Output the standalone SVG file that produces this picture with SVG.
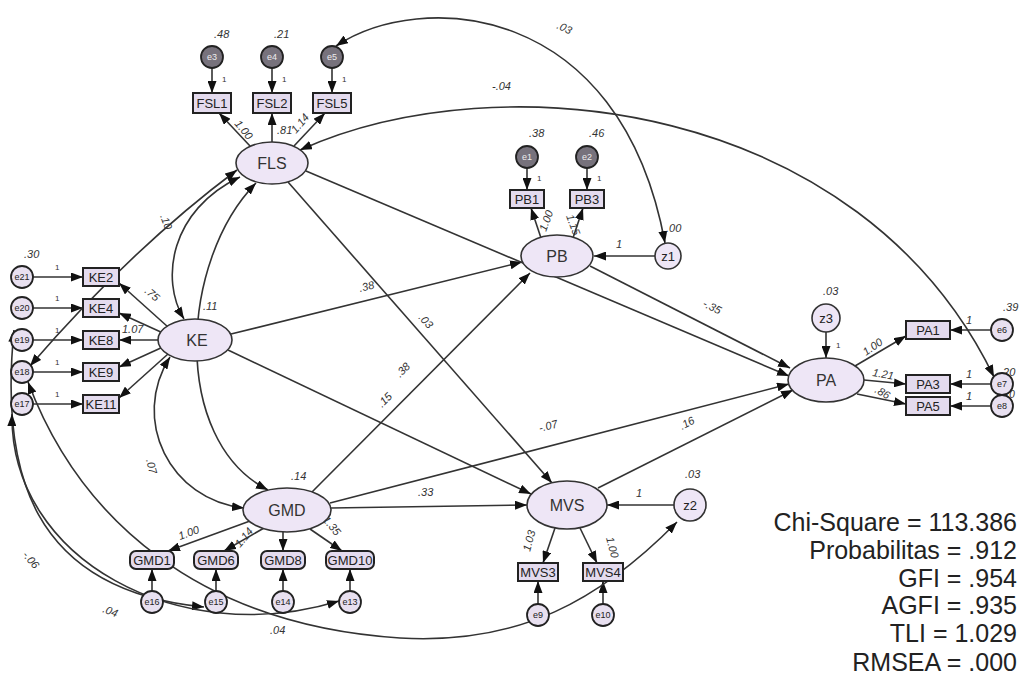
<svg xmlns="http://www.w3.org/2000/svg" width="1020" height="681" viewBox="0 0 1020 681">
<style>
.ln{fill:none;stroke:#333;stroke-width:1.6}
.a{marker-end:url(#ah)}
.d{marker-start:url(#ah);marker-end:url(#ah)}
.lat{fill:#eee6f6;stroke:#333;stroke-width:1.6}
.box{fill:#e4dbee;stroke:#222;stroke-width:2}
.err{fill:#e8e0f0;stroke:#222;stroke-width:1.8}
.errd{fill:#77727c;stroke:#222;stroke-width:1.8}
text{font-family:"Liberation Sans",Arial,sans-serif;fill:#333}
.nl{font-size:16px;text-anchor:middle}
.bl{font-size:13px;text-anchor:middle;fill:#222}
.el{font-size:9px;text-anchor:middle;fill:#222}
.eld{font-size:9px;text-anchor:middle;fill:#eee}
.n{font-size:11px;font-style:italic}
.s{font-size:8px}
.st{font-size:25px;text-anchor:end;fill:#222}
</style>
<defs>
<marker id="ah" viewBox="0 0 12 9" refX="12" refY="4.5" markerWidth="12" markerHeight="9" orient="auto-start-reverse" markerUnits="userSpaceOnUse"><path d="M0,0L12,4.5L0,9z" fill="#111"/></marker>
</defs>

<g id="connectors">
<path class="ln a" d="M212,68L212,93"/><path class="ln a" d="M272,68L272,93"/><path class="ln a" d="M332,68L332,93"/>
<path class="ln a" d="M250,146L219,113"/><path class="ln a" d="M272,142L272,113"/><path class="ln a" d="M294,146L325,113"/>
<path class="ln a" d="M527,168L527,190"/><path class="ln a" d="M587,168L587,190"/>
<path class="ln a" d="M541,238L531,208"/><path class="ln a" d="M573,238L583,208"/>
<path class="ln a" d="M655,256L594,256"/>
<path class="ln a" d="M826,332L826,358"/>
<path class="ln a" d="M855,366L906,336"/><path class="ln a" d="M864,380L906,384"/><path class="ln a" d="M857,394L906,404"/>
<path class="ln a" d="M991,330L950,330"/><path class="ln a" d="M991,384L950,384"/><path class="ln a" d="M991,406L950,406"/>
<path class="ln a" d="M33,277L83,277"/><path class="ln a" d="M33,308L83,308"/><path class="ln a" d="M33,340L83,340"/><path class="ln a" d="M33,372L83,372"/><path class="ln a" d="M33,404L83,404"/>
<path class="ln a" d="M168,327L119,283"/><path class="ln a" d="M163,333L119,313"/><path class="ln a" d="M158,340L119,340"/><path class="ln a" d="M163,347L119,367"/><path class="ln a" d="M168,354L119,398"/>
<path class="ln a" d="M152,591L152,569"/><path class="ln a" d="M216,591L216,569"/><path class="ln a" d="M283,591L283,569"/><path class="ln a" d="M350,591L350,569"/>
<path class="ln a" d="M250,521L168,551"/><path class="ln a" d="M264,528L224,551"/><path class="ln a" d="M283,532L283,551"/><path class="ln a" d="M310,529L342,551"/>
<path class="ln a" d="M538,604L538,581"/><path class="ln a" d="M603,604L603,581"/>
<path class="ln a" d="M555,528L543,563"/><path class="ln a" d="M580,528L597,563"/>
<path class="ln a" d="M674,505L607,505"/>
<path class="ln a" d="M231,334L522,262"/>
<path class="ln a" d="M288,182L552,483"/>
<path class="ln a" d="M312,492L530,273"/>
<path class="ln a" d="M228,350L531,494"/>
<path class="ln a" d="M306,171L789,376"/>
<path class="ln a" d="M590,266L790,368"/>
<path class="ln a" d="M330,503L789,384"/>
<path class="ln a" d="M331,508L527,505"/>
<path class="ln a" d="M598,488L793,390"/>
<path class="ln d" d="M336,46C420,-10 620,0 665,243"/>
<path class="ln d" d="M300,150C500,60 860,100 994,377"/>
<path class="ln d" d="M240,177C170,210 160,280 184,319"/>
<path class="ln d" d="M256,183C180,260 170,440 268,490"/>
<path class="ln d" d="M170,357C130,420 170,500 244,508"/>
<path class="ln d" d="M237,170Q130,250 30,366"/>
<path class="ln d" d="M28,382C80,520 200,625 400,638C520,645 600,600 677,522"/>
<path class="ln d" d="M14,330C0,470 30,590 204,607"/>
<path class="ln d" d="M12,414C10,560 180,650 339,601"/>

<text class="n" x="214" y="38">.48</text><text class="n" x="274" y="38">.21</text>
<text class="s" x="222" y="82">1</text><text class="s" x="282" y="82">1</text><text class="s" x="342" y="82">1</text>
<text class="n" transform="rotate(50 234 124)" x="234" y="124">1.00</text>
<text class="n" x="277" y="134">.81</text>
<text class="n" transform="rotate(-50 296 134)" x="296" y="134">1.14</text>
<text class="n" x="529" y="137">.38</text><text class="n" x="589" y="137">.46</text>
<text class="s" x="537" y="181">1</text><text class="s" x="597" y="181">1</text>
<text class="n" transform="rotate(-70 546 232)" x="546" y="232">1.00</text>
<text class="n" transform="rotate(70 566 216)" x="566" y="216">1.15</text>
<text class="n" x="666" y="232">.00</text>
<text class="n" x="616" y="248">1</text>
<text class="n" x="823" y="295">.03</text>
<text class="s" x="836" y="348">1</text>
<text class="n" transform="rotate(-35 866 356)" x="866" y="356">1.00</text>
<text class="n" transform="rotate(10 872 376)" x="872" y="376">1.21</text>
<text class="n" transform="rotate(30 874 392)" x="874" y="392">.86</text>
<text class="n" x="966" y="324">1</text><text class="n" x="966" y="378">1</text><text class="n" x="966" y="400">1</text>
<text class="n" x="1003" y="311">.39</text><text class="n" x="1000" y="376">.20</text><text class="n" style="font-size:10px" x="1001" y="398">.10</text>
<text class="n" x="24" y="258">.30</text>
<text class="s" x="55" y="270">1</text><text class="s" x="55" y="301">1</text><text class="s" x="55" y="333">1</text><text class="s" x="55" y="365">1</text><text class="s" x="55" y="397">1</text>
<text class="n" transform="rotate(40 144 292)" x="144" y="292">.75</text>
<text class="n" x="122" y="333">1.07</text>
<text class="n" x="203" y="310">.11</text>
<text class="n" transform="rotate(70 160 216)" x="160" y="216">.10</text>
<text class="n" transform="rotate(75 146 460)" x="146" y="460">.07</text>
<text class="n" x="291" y="480">.14</text>
<text class="n" transform="rotate(-20 180 540)" x="180" y="540">1.00</text>
<text class="n" transform="rotate(-50 240 548)" x="240" y="548">1.14</text>
<text class="n" transform="rotate(50 322 520)" x="322" y="520">1.35</text>
<text class="n" transform="rotate(-14 360 292)" x="360" y="292">.38</text>
<text class="n" transform="rotate(48 418 318)" x="418" y="318">.03</text>
<text class="n" transform="rotate(-45 400 378)" x="400" y="378">.38</text>
<text class="n" transform="rotate(-45 382 408)" x="382" y="408">.15</text>
<text class="n" transform="rotate(27 702 306)" x="702" y="306">-.35</text>
<text class="n" transform="rotate(-15 540 432)" x="540" y="432">-.07</text>
<text class="n" x="418" y="496">.33</text>
<text class="n" transform="rotate(-28 682 430)" x="682" y="430">.16</text>
<text class="n" x="685" y="478">.03</text>
<text class="n" x="636" y="497">1</text>
<text class="n" transform="rotate(-75 530 552)" x="530" y="552">1.03</text>
<text class="n" transform="rotate(75 606 538)" x="606" y="538">1.00</text>
<text class="n" transform="rotate(25 556 28)" x="556" y="28">.03</text>
<text class="n" x="492" y="90">-.04</text>
<text class="n" transform="rotate(50 22 555)" x="22" y="555">-.06</text>
<text class="n" transform="rotate(20 102 612)" x="102" y="612">.04</text>
<text class="n" x="270" y="634">.04</text>
</g>

<g id="FLS"><ellipse class="lat" cx="272" cy="163" rx="36" ry="21"/><text class="nl" x="272" y="169">FLS</text></g>
<g id="PB"><ellipse class="lat" cx="557" cy="256" rx="36" ry="21"/><text class="nl" x="557" y="262">PB</text></g>
<g id="KE"><ellipse class="lat" cx="195" cy="340" rx="37" ry="21"/><text class="nl" x="197" y="346">KE</text></g>
<g id="PA"><ellipse class="lat" cx="826" cy="380" rx="38" ry="22"/><text class="nl" x="826" y="386">PA</text></g>
<g id="GMD"><ellipse class="lat" cx="287" cy="510" rx="44" ry="22"/><text class="nl" x="287" y="516">GMD</text></g>
<g id="MVS"><ellipse class="lat" cx="567" cy="505" rx="40" ry="24"/><text class="nl" x="567" y="511">MVS</text></g>
<g id="z1"><circle class="lat" cx="668" cy="256" r="13"/><text class="bl" x="668" y="261">z1</text></g>
<g id="z2"><circle class="lat" cx="690" cy="505" r="16"/><text class="bl" x="690" y="510">z2</text></g>
<g id="z3"><circle class="lat" cx="826" cy="318" r="14"/><text class="bl" x="826" y="323">z3</text></g>

<g id="FSL1"><rect class="box" x="193" y="93" width="38" height="20"/><text class="bl" x="212" y="108">FSL1</text></g>
<g id="FSL2"><rect class="box" x="253" y="93" width="38" height="20"/><text class="bl" x="272" y="108">FSL2</text></g>
<g id="FSL5"><rect class="box" x="313" y="93" width="38" height="20"/><text class="bl" x="332" y="108">FSL5</text></g>
<g id="PB1"><rect class="box" x="510" y="190" width="34" height="18"/><text class="bl" x="527" y="204">PB1</text></g>
<g id="PB3"><rect class="box" x="570" y="190" width="34" height="18"/><text class="bl" x="587" y="204">PB3</text></g>
<g id="PA1"><rect class="box" x="906" y="321" width="44" height="18"/><text class="bl" x="928" y="335">PA1</text></g>
<g id="PA3"><rect class="box" x="906" y="375" width="44" height="18"/><text class="bl" x="928" y="389">PA3</text></g>
<g id="PA5"><rect class="box" x="906" y="397" width="44" height="18"/><text class="bl" x="928" y="411">PA5</text></g>
<g id="KE2"><rect class="box" x="83" y="268" width="36" height="18"/><text class="bl" x="101" y="282">KE2</text></g>
<g id="KE4"><rect class="box" x="83" y="299" width="36" height="18"/><text class="bl" x="101" y="313">KE4</text></g>
<g id="KE8"><rect class="box" x="83" y="331" width="36" height="18"/><text class="bl" x="101" y="345">KE8</text></g>
<g id="KE9"><rect class="box" x="83" y="363" width="36" height="18"/><text class="bl" x="101" y="377">KE9</text></g>
<g id="KE11"><rect class="box" x="83" y="395" width="36" height="18"/><text class="bl" x="101" y="409">KE11</text></g>
<g id="GMD1"><rect class="box" x="130" y="551" width="44" height="18" rx="6"/><text class="bl" x="152" y="565">GMD1</text></g>
<g id="GMD6"><rect class="box" x="194" y="551" width="44" height="18" rx="6"/><text class="bl" x="216" y="565">GMD6</text></g>
<g id="GMD8"><rect class="box" x="261" y="551" width="44" height="18" rx="6"/><text class="bl" x="283" y="565">GMD8</text></g>
<g id="GMD10"><rect class="box" x="326" y="551" width="48" height="18" rx="6"/><text class="bl" x="350" y="565">GMD10</text></g>
<g id="MVS3"><rect class="box" x="518" y="563" width="40" height="18"/><text class="bl" x="538" y="577">MVS3</text></g>
<g id="MVS4"><rect class="box" x="583" y="563" width="40" height="18"/><text class="bl" x="603" y="577">MVS4</text></g>

<g id="e3"><circle class="errd" cx="212" cy="57" r="11"/><text class="eld" x="212" y="60">e3</text></g>
<g id="e4"><circle class="errd" cx="272" cy="57" r="11"/><text class="eld" x="272" y="60">e4</text></g>
<g id="e5"><circle class="errd" cx="332" cy="57" r="11"/><text class="eld" x="332" y="60">e5</text></g>
<g id="e1"><circle class="errd" cx="527" cy="157" r="11"/><text class="eld" x="527" y="160">e1</text></g>
<g id="e2"><circle class="errd" cx="587" cy="157" r="11"/><text class="eld" x="587" y="160">e2</text></g>
<g id="e6"><circle class="err" cx="1002" cy="330" r="11"/><text class="el" x="1002" y="333">e6</text></g>
<g id="e7"><circle class="err" cx="1002" cy="384" r="11"/><text class="el" x="1002" y="387">e7</text></g>
<g id="e8"><circle class="err" cx="1002" cy="406" r="11"/><text class="el" x="1002" y="409">e8</text></g>
<g id="e21"><circle class="err" cx="22" cy="277" r="11"/><text class="el" x="22" y="280">e21</text></g>
<g id="e20"><circle class="err" cx="22" cy="308" r="11"/><text class="el" x="22" y="311">e20</text></g>
<g id="e19"><circle class="err" cx="22" cy="340" r="11"/><text class="el" x="22" y="343">e19</text></g>
<g id="e18"><circle class="err" cx="22" cy="372" r="11"/><text class="el" x="22" y="375">e18</text></g>
<g id="e17"><circle class="err" cx="22" cy="404" r="11"/><text class="el" x="22" y="407">e17</text></g>
<g id="e16"><circle class="err" cx="152" cy="602" r="11"/><text class="el" x="152" y="605">e16</text></g>
<g id="e15"><circle class="err" cx="216" cy="602" r="11"/><text class="el" x="216" y="605">e15</text></g>
<g id="e14"><circle class="err" cx="283" cy="602" r="11"/><text class="el" x="283" y="605">e14</text></g>
<g id="e13"><circle class="err" cx="350" cy="602" r="11"/><text class="el" x="350" y="605">e13</text></g>
<g id="e9"><circle class="err" cx="538" cy="615" r="11"/><text class="el" x="538" y="618">e9</text></g>
<g id="e10"><circle class="err" cx="603" cy="615" r="11"/><text class="el" x="603" y="618">e10</text></g>

<g id="fit">
<text class="st" x="1017" y="531">Chi-Square = 113.386</text>
<text class="st" x="1017" y="559">Probabilitas = .912</text>
<text class="st" x="1017" y="587">GFI = .954</text>
<text class="st" x="1017" y="614">AGFI = .935</text>
<text class="st" x="1017" y="642">TLI = 1.029</text>
<text class="st" x="1017" y="671">RMSEA = .000</text>
</g>
</svg>
